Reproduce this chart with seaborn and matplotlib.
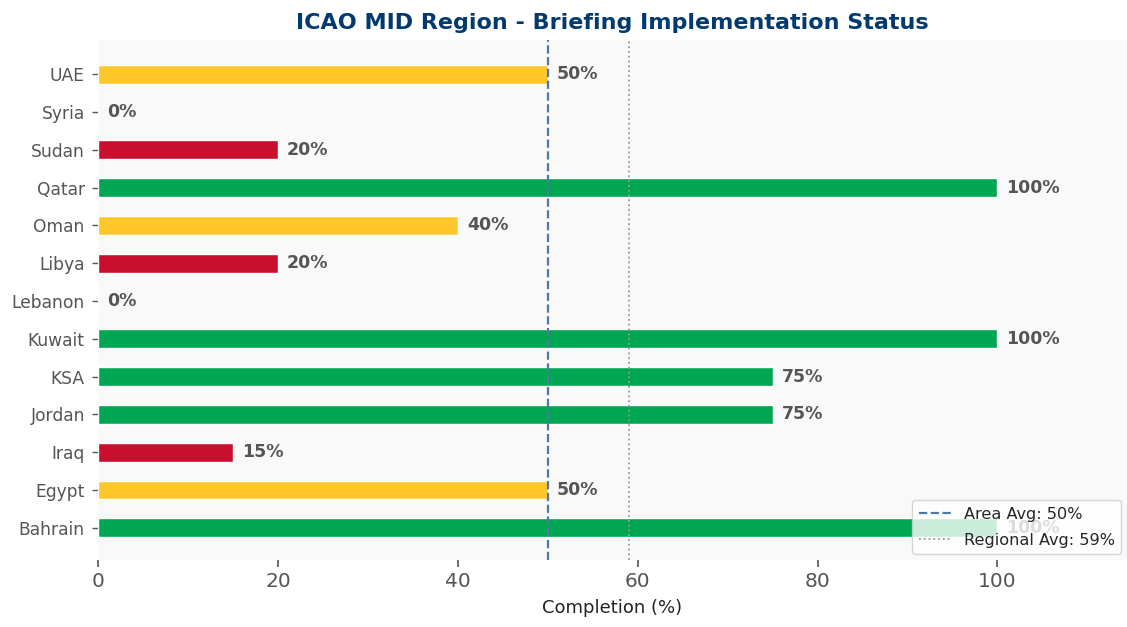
import matplotlib
matplotlib.use("Agg")
import matplotlib.pyplot as plt
import seaborn as sns
import pandas as pd

countries = ["UAE", "Syria", "Sudan", "Qatar", "Oman", "Libya", "Lebanon",
             "Kuwait", "KSA", "Jordan", "Iraq", "Egypt", "Bahrain"]
completion = [50, 0, 20, 100, 40, 20, 0, 100, 75, 75, 15, 50, 100]
area_avg = 50
regional_avg = 59

GREEN, YELLOW, RED = "#00A651", "#FFC72C", "#C8102E"

def status_color(v):
    if v >= 75:
        return GREEN
    if v >= 40:
        return YELLOW
    return RED

palette = {c: status_color(v) for c, v in zip(countries, completion)}
df = pd.DataFrame({"Country": countries, "Completion": completion})

sns.set_style("white")
plt.rcParams["font.family"] = ["DejaVu Sans"]

fig = plt.figure(figsize=(11.27, 6.27), dpi=100)
ax = fig.add_axes([0.087, 0.107, 0.913, 0.829])
ax.set_facecolor("#f9f9f9")

sns.barplot(data=df, y="Country", x="Completion", hue="Country", order=countries,
            palette=palette, width=0.5, legend=False, ax=ax, saturation=1)

for i, v in enumerate(completion):
    ax.text(v + 1, i, f"{v}%", va="center", ha="left", fontsize=12.5,
            fontweight="bold", color="#555555")

ax.axvline(area_avg, color="#4f79a5", linestyle="--", linewidth=1.6,
           label=f"Area Avg: {area_avg}%")
ax.axvline(regional_avg, color="#999999", linestyle=":", linewidth=1.3,
           label=f"Regional Avg: {regional_avg}%")

ax.set_xlim(0, 114.4)
ax.set_ylim(12.85, -0.9)
ax.set_xticks([0, 20, 40, 60, 80, 100])
for s in ax.spines.values():
    s.set_visible(False)
ax.tick_params(axis="x", bottom=True, labelsize=14.5, colors="#555555", length=5, width=1.2)
ax.tick_params(axis="y", left=True, labelsize=12.3, colors="#555555", length=4, width=1, pad=5.5)
ax.set_ylabel("")
ax.set_xlabel("Completion (%)", fontsize=13, color="#222222", labelpad=6)
ax.set_title("ICAO MID Region - Briefing Implementation Status", fontsize=16,
             fontweight="bold", color="#003a70", pad=8)

ax.legend(loc="lower right", fontsize=11.6, framealpha=0.8, edgecolor="#cccccc",
          borderaxespad=0.35, labelspacing=0.7)

fig.savefig("out.png", dpi=100)
